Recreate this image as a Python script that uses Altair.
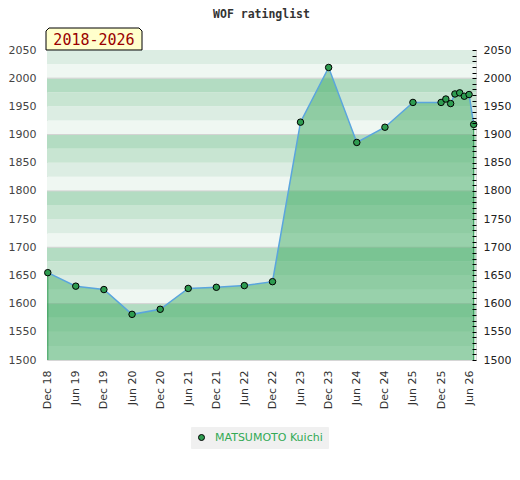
import altair as alt
import pandas as pd

# ---- data ----
dates = ["2018-12-01", "2019-06-01", "2019-12-01", "2020-06-01", "2020-12-01",
         "2021-06-01", "2021-12-01", "2022-06-01", "2022-12-01", "2023-06-01",
         "2023-12-01", "2024-06-01", "2024-12-01", "2025-06-01", "2025-12-01",
         "2026-01-01", "2026-02-01", "2026-03-01", "2026-04-01", "2026-05-01",
         "2026-06-01", "2026-07-01"]
ratings = [1655, 1631, 1625, 1581, 1590, 1627, 1629, 1632, 1639, 1922,
           2019, 1886, 1913, 1957, 1957, 1963, 1955, 1972, 1974, 1968,
           1971, 1918]
player = "MATSUMOTO Kuichi"
period_label = "2018-2026"
chart_title = "WOF ratinglist"

tick_years_months = [(2018, 12)] + [(y, m) for y in range(2019, 2027) for m in (6, 12) if (y, m) <= (2026, 6)]

band_starts = list(range(1500, 2050, 25))
band_shades = {0: "#eff7f2", 25: "#dcede3", 50: "#c8e5d2", 75: "#b3dcc2"}
grid_values = [1600, 1700, 1800, 1900, 2000]

W, H = 429, 310
YMIN, YMAX = 1500, 2050

df = pd.DataFrame({"date": dates, "rating": ratings, "name": player})
bands = pd.DataFrame({"lo": band_starts,
                      "hi": [b + 25 for b in band_starts],
                      "c": [band_shades[b % 100] for b in band_starts]})
grid = pd.DataFrame({"v": grid_values})
lab = pd.DataFrame({"t": [period_label]})

xscale = alt.Scale(type="utc",
                   domain=[alt.DateTime(year=2018, month=11, date=26, utc=True),
                           alt.DateTime(year=2026, month=7, date=16, utc=True)])
yscale = alt.Scale(domain=[YMIN, YMAX], nice=False, zero=False)

xaxis = alt.Axis(values=[alt.DateTime(year=y, month=m, date=1, utc=True) for y, m in tick_years_months],
                 labelExpr="utcFormat(datum.value, '%b %y')",
                 labelAngle=-90, labelAlign="right", labelBaseline="middle",
                 labelPadding=10, ticks=False, tickSize=0, domain=False, grid=False,
                 labelFont="DejaVu Sans", labelFontSize=11, labelColor="#333",
                 title=None, labelOverlap=False)

left_axis = alt.Axis(orient="left", values=list(range(1500, 2051, 50)), format="d",
                     ticks=False, tickSize=0,
                     domain=False, grid=False, labelPadding=11, labelFont="DejaVu Sans",
                     labelFontSize=11, labelColor="#444", title=None)
right_axis = alt.Axis(orient="right", values=list(range(1500, 2051, 10)), format="d",
                      labelExpr="datum.value % 50 == 0 ? datum.label : ''",
                      ticks=True, tickSize=4, tickColor="#000", tickOpacity=1, tickWidth=1,
                      offset=-4, domain=False, grid=False, zindex=2,
                      labelPadding=7, labelFont="DejaVu Sans", labelFontSize=11,
                      labelColor="#222", title=None, labelOverlap=False)

band_layer = alt.Chart(bands).mark_rect().encode(
    x=alt.value(0), x2=alt.value(W),
    y=alt.Y("lo:Q", scale=yscale, axis=left_axis), y2="hi:Q",
    fill=alt.Fill("c:N", scale=None),
)

grid_layer = alt.Chart(grid).mark_rule(color="#d2d2d2", strokeWidth=1).encode(
    x=alt.value(0), x2=alt.value(W),
    y=alt.Y("v:Q", scale=yscale, axis=None),
)

base = alt.Chart(df).encode(
    x=alt.X("date:T", scale=xscale, axis=xaxis),
)

area = base.mark_area(color="#42ac64", opacity=0.5).encode(
    y=alt.Y("rating:Q", scale=yscale, axis=right_axis),
    y2=alt.datum(YMIN),
)

edges = pd.DataFrame({"date": [dates[0], dates[0], dates[-1], dates[-1]],
                      "rating": [ratings[0], YMIN, ratings[-1], YMIN],
                      "side": ["l", "l", "r", "r"]})
edge_layer = alt.Chart(edges).mark_line(color="#2f9a52", strokeWidth=1).encode(
    x=alt.X("date:T", scale=xscale, axis=xaxis),
    y=alt.Y("rating:Q", scale=yscale, axis=None),
    detail="side:N",
)

line = base.mark_line(color="#5aa5de", strokeWidth=1.5).encode(
    y=alt.Y("rating:Q", scale=yscale, axis=None),
)

points = base.mark_point(filled=True, size=42, stroke="#000", strokeWidth=1, opacity=1).encode(
    y=alt.Y("rating:Q", scale=yscale, axis=None),
    color=alt.Color("name:N", scale=alt.Scale(range=["#2e9c50"]),
                    legend=alt.Legend(orient="none", legendX=144, legendY=377,
                                      title=None, fillColor="#f0f0f0", padding=5,
                                      symbolType="circle", symbolSize=36,
                                      symbolStrokeColor="#000", symbolStrokeWidth=1,
                                      labelColor="#33aa55", labelFont="DejaVu Sans",
                                      labelFontSize=11, labelOffset=8,
                                      strokeColor="#f0f0f0")),
)

box_path = "M -1 0.229 L -1 -0.167 L -0.9375 -0.229 L 0.9375 -0.229 L 1 -0.167 L 1 0.229 Z"
box = alt.Chart(lab).mark_point(shape=box_path, size=96 * 96, filled=True, fill="#ffffcc",
                                stroke="#000", strokeWidth=1, opacity=1).encode(
    x=alt.value(47), y=alt.value(-11),
)
box_text = alt.Chart(lab).mark_text(font="DejaVu Sans Mono", fontSize=15, color="#990000",
                                    align="center", baseline="middle").encode(
    x=alt.value(47), y=alt.value(-10), text="t:N",
)

chart = alt.layer(band_layer, grid_layer, area, edge_layer, line, points, box, box_text).resolve_axis(
    y="independent"
).properties(
    width=W, height=H, padding=0,
    title=alt.TitleParams(chart_title, font="DejaVu Sans Mono", fontSize=11.5,
                          fontWeight="bold", color="#333", offset=6, anchor="middle"),
).configure_view(stroke="#d6d6d6", strokeWidth=1)

chart.save("out.html", embed_options={"renderer": "svg", "actions": False})
